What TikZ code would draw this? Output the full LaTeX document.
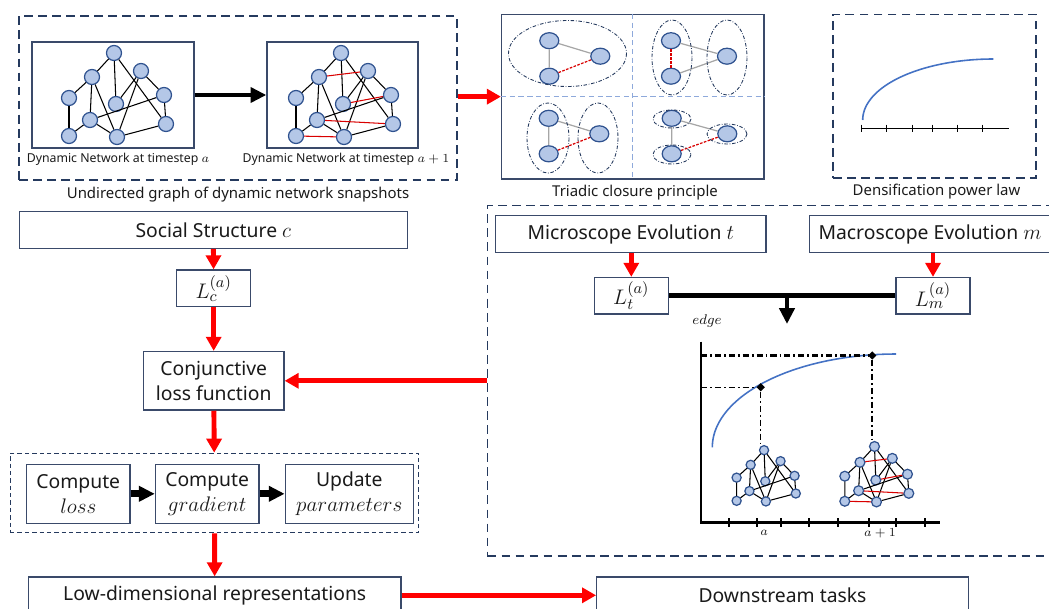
\documentclass[tikz,border=0pt]{standalone}
\usepackage[no-math]{fontspec}
\setmainfont{Noto Sans}
\usetikzlibrary{arrows.meta,positioning,shapes.geometric}
\definecolor{navy}{HTML}{253A5E}
\definecolor{frame}{HTML}{3A4A6A}
\definecolor{vfill}{HTML}{B4C7E7}
\definecolor{vline}{HTML}{2F528F}
\definecolor{hot}{HTML}{FF0000}
\definecolor{curve}{HTML}{4472C4}
\definecolor{split}{HTML}{8EA9DB}
\definecolor{tiegray}{HTML}{A6A6A6}
\definecolor{ink}{HTML}{1A1A1A}
\newcommand\bigmath[1]{{\fontsize{12.5}{14}\selectfont$#1$}}

\tikzset{
  vertex/.style={circle,draw=vline,fill=vfill,line width=0.7pt,minimum size=0.3cm,inner sep=0pt},
  bond/.style={draw=black,line width=0.6pt},
  newbond/.style={draw=red!85!black,line width=0.6pt},
  net/.pic={
    \foreach \n/\x/\y in {a/-3.5/-42,b/-25.5/-18,c/23.5/-24,d/-48.5/3,e/-1.5/9,f/46.5/0,g/-27.5/25,h/48.5/29,i/-48.5/41,j/-0.5/42}
      \node[vertex] (-\n) at (\x,\y) {};
    \foreach \u/\v in {a/b,a/e,a/h,b/d,b/g,b/j,c/e,c/f,c/j,d/i,g/i,g/j,g/f,f/h,h/j}
      \draw[bond] (-\u) -- (-\v);
  }
}

\begin{document}
\begin{tikzpicture}[x=0.02cm,y=-0.02cm,font=\fontsize{11}{14}\selectfont,text=ink,
  block/.style={draw=frame,line width=0.8pt,fill=white,minimum height=0.73cm,inner sep=2pt,align=center},
  group/.style={draw=navy,line width=0.9pt,dash pattern=on 5pt off 3pt},
  note/.style={font=\fontsize{8.5}{10}\selectfont},
  flow/.style={draw=hot,line width=2.8pt,-{Triangle[width=8.5pt,length=8pt]}},
  push/.style={draw=black,line width=2.8pt,-{Triangle[width=8.5pt,length=9pt]}},
  tvertex/.style={ellipse,draw=vline,fill=vfill,line width=0.7pt,minimum width=0.38cm,minimum height=0.32cm,inner sep=0pt},
  tie/.style={draw=tiegray,line width=0.7pt},
  closure/.style={draw=red!85!black,line width=0.7pt,dash pattern=on 1.5pt off 0.8pt},
  ring/.style={draw=navy,line width=0.5pt,dash pattern=on 2pt off 1pt on 0.4pt off 1pt},
  guide/.style={draw=black,dash pattern=on 3.5pt off 1.7pt on 1pt off 1.7pt}]
\useasboundingbox (0,0) rectangle (1049,609);

% snapshots
\node[group,minimum width=8.76cm,minimum height=3.28cm] (snaps) at (238,98) {};
\node[draw=frame,line width=0.8pt,minimum width=3.24cm,minimum height=2.12cm] (s1) at (113,95) {};
\node[draw=frame,line width=0.8pt,minimum width=3.02cm,minimum height=2.12cm] (s2) at (342.5,95) {};
\pic (g1) at (117.5,95) {net};
\pic (g2) at (344.5,95) {net};
\foreach \u/\v in {b/c,e/f,g/h,i/j} \draw[newbond] (g2-\u) -- (g2-\v);
\draw[push] (s1) -- (s2);
\node[font=\fontsize{7}{8}\selectfont] (l1) at (118,159.5) {Dynamic Network at timestep $a$};
\node[font=\fontsize{7}{8}\selectfont] (l2) at (346,159.5) {Dynamic Network at timestep $a+1$};
\node[note] (snapcap) at (238,195) {Undirected graph of dynamic network snapshots};

% triadic closure
\node[draw=frame,line width=0.8pt,minimum width=5.25cm,minimum height=3.29cm] (tri) at (632.85,96.65) {};
\draw[split,line width=0.5pt,dash pattern=on 3pt off 2pt] (tri.north) -- (tri.south) (tri.west) -- (tri.east);
\foreach \q/\x/\y/\dx in {1/549.3/40.7/51,2/671/40.7/56,3/548.7/118.3/50.6,4/671.7/118.3/55.6}{
  \node[tvertex] (q\q-t) at (\x,\y) {};
  \node[tvertex] (q\q-b) at (\x,\y+35.5) {};
  \node[tvertex] (q\q-r) at (\x+\dx,\y+15.5) {};
}
\foreach \q in {1,3,4}{
  \draw[tie] (q\q-t) -- (q\q-b) (q\q-t) -- (q\q-r);
  \draw[closure] (q\q-b) -- (q\q-r);
}
\draw[tie] (q2-t) -- (q2-r) (q2-b) -- (q2-r);
\draw[closure] (q2-t) -- (q2-b);
\draw[ring] (567.5,53.5) ellipse [x radius=59,y radius=33];
\draw[ring] (672,57.5) ellipse [x radius=20,y radius=37.5] (727,57.5) ellipse [x radius=20,y radius=37.5];
\draw[ring] (548,138) ellipse [x radius=21,y radius=35] (598,138) ellipse [x radius=20,y radius=35];
\draw[ring] (672,119) ellipse [x radius=19,y radius=9] (672,154.5) ellipse [x radius=19,y radius=9.5] (727,134) ellipse [x radius=20,y radius=10];
\node[note] (tricap) at (635,193) {Triadic closure principle};
\draw[flow] (snaps.east |- tri.west) -- (tri.west);

% densification
\node[group,minimum width=4.06cm,minimum height=3.27cm] (dens) at (934.5,96.15) {};
\draw[line width=0.8pt] (861.7,128.3) -- (1009,128.3);
\foreach \t in {861.7,886.7,912.3,932.7,957.3,982.3} \draw[line width=0.6pt] (\t,124.5) -- (\t,132);
\draw[curve,line width=0.9pt] plot[domain=180:270,samples=50] ({993.3+130.6*cos(\x)},{120+61*sin(\x)});
\node[note] (denscap) at (936.5,192) {Densification power law};

% left column
\node[block,minimum width=7.76cm] (social) at (213.3,230) {Social Structure \bigmath{c}};
\node[block,minimum width=1.48cm] (lc) at (213.7,288.3) {\bigmath{L_c^{(a)}}};
\node[block,minimum width=2.81cm,minimum height=1.17cm] (conj) at (213.7,380.8) {Conjunctive\\loss function};
\node[draw=navy,line width=0.6pt,dash pattern=on 2.5pt off 1.7pt,minimum width=8.18cm,minimum height=1.59cm] (train) at (214.5,493) {};
\node[block,minimum width=2.07cm,minimum height=1.18cm] (closs) at (78.3,493.8) {Compute\\\bigmath{loss}};
\node[block,minimum width=2.07cm,minimum height=1.18cm,right=0.48cm of closs] (cgrad) {Compute\\\bigmath{gradient}};
\node[block,minimum width=2.56cm,minimum height=1.18cm,right=0.5cm of cgrad] (upd) {Update\\\bigmath{parameters}};
\node[block,minimum width=7.45cm] (low) at (214.7,595.3) {Low-dimensional representations};
\node[block,minimum width=7.43cm] (down) at (782.5,595.3) {Downstream tasks};
\draw[flow] (social) -- (lc);
\draw[flow] (lc) -- (conj);
\draw[flow] (conj) -- (train);
\draw[flow] (train) -- (low);
\draw[flow] (low) -- (down);
\draw[push,line width=4pt] (closs) -- (cgrad);
\draw[push,line width=4pt] (cgrad) -- (upd);

% evolution
\node[group,minimum width=11.45cm,minimum height=7.01cm] (evo) at (773.65,380.85) {};
\node[block,minimum width=5.41cm] (micro) at (630.8,234) {Microscope Evolution \bigmath{t}};
\node[block,minimum width=4.83cm] (macro) at (930,234) {Macroscope Evolution \bigmath{m}};
\node[block,minimum width=1.48cm] (lt) at (631.3,295.8) {\bigmath{L_t^{(a)}}};
\node[block,minimum width=1.48cm] (lm) at (933,295.8) {\bigmath{L_m^{(a)}}};
\draw[flow] (lt.north |- micro.south) -- (lt.north);
\draw[flow] (lm.north |- macro.south) -- (lm.north);
\draw[line width=2.8pt] (lt) -- (lm);
\coordinate (fork) at (787,295.8);
\coordinate (edgetip) at (787,324);
\draw[push] (fork) -- (edgetip);
\node[font=\footnotesize] (edgelbl) at (707,320.7) {$edge$};
\draw[flow] (evo.west |- conj.east) -- (conj.east);

% edge growth plot
\coordinate (o) at (701,522.3);
\draw[line width=1.4pt] (701,341.7) -- (o) -- (940,522.3);
\foreach \t in {729.3,757.3,781,809.3,837.7,869,896,925} \draw[line width=1pt] (\t,518) -- (\t,527);
\node[font=\scriptsize] (ta) at (764.3,533) {$a$};
\node[font=\scriptsize] (tb) at (880,533) {$a+1$};
\draw[curve,line width=0.9pt] plot[domain=180:270,samples=50] ({896+183.7*cos(\x)},{447.3+93.3*sin(\x)});
\pic[scale=0.61,transform shape] (ga) at (766.2,475.8) {net};
\pic[scale=0.66,transform shape] (gb) at (876.8,474.2) {net};
\foreach \u/\v in {b/c,e/f,g/h,i/j} \draw[newbond] (gb-\u) -- (gb-\v);
\node[diamond,fill=black,inner sep=0pt,minimum size=0.17cm] (da) at (760.7,387.3) {};
\node[diamond,fill=black,inner sep=0pt,minimum size=0.17cm] (db) at (872.3,355.5) {};
\draw[guide,line width=0.8pt] (o |- da) -- (da) -- (da |- ga-a.north);
\draw[guide,line width=1.3pt] (o |- db) -- (db) -- (db |- gb-a.north);
\end{tikzpicture}
\end{document}
